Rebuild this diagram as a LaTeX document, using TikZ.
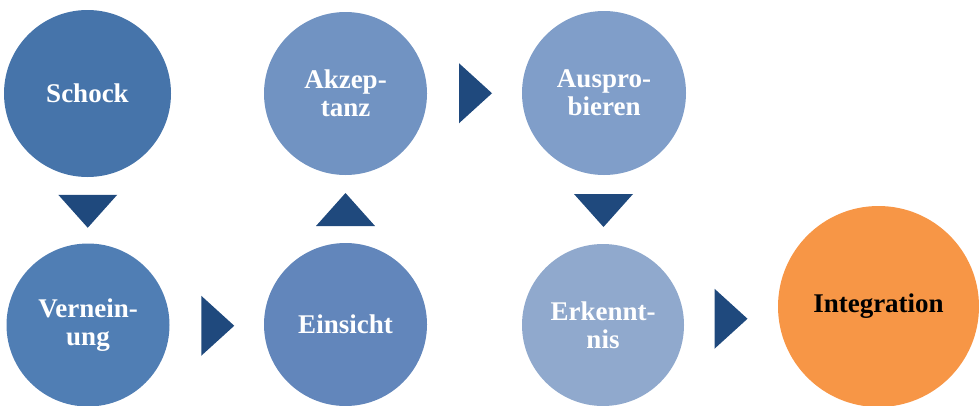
\documentclass[tikz,border=0pt]{standalone}
\usepackage{fontspec}
\setmainfont{Liberation Serif}
\usetikzlibrary{calc}

\definecolor{cSchock}{RGB}{70,116,170}
\definecolor{cVern}{RGB}{80,126,180}
\definecolor{cEins}{RGB}{98,134,187}
\definecolor{cAkz}{RGB}{113,147,194}
\definecolor{cAusp}{RGB}{128,158,201}
\definecolor{cErk}{RGB}{144,169,205}
\definecolor{cInt}{RGB}{247,150,70}
\definecolor{arrowblue}{RGB}{31,73,125}

\tikzset{
  phase/.style={circle, inner sep=0pt, minimum size=163pt, text=white,
    align=center, font=\fontsize{27}{28}\selectfont\bfseries},
  arrowtri/.style={fill=arrowblue, draw=none},
}

% triangle pointing right / down / up, centred at the given point
\newcommand{\triright}[1]{\fill[arrowtri] #1 ++(-16.5,-30) -- ++(33,30) -- ++(-33,30) -- cycle;}
\newcommand{\tridown}[1]{\fill[arrowtri] #1 ++(-29.5,-16.5) -- ++(59,0) -- ++(-29.5,33) -- cycle;}
\newcommand{\triup}[1]{\fill[arrowtri] #1 ++(-29.5,16.5) -- ++(59,0) -- ++(-29.5,-33) -- cycle;}

\begin{document}
\begin{tikzpicture}[x=1pt, y=-1pt]
  \useasboundingbox (0,0) rectangle (979,405);

  \node[phase, fill=cSchock, minimum size=167pt] (sch) at (87.5,93.5) {Schock};
  \node[phase, fill=cVern] (ver) at (88,325) {Vernein-\\ung};
  \node[phase, fill=cEins] (ein) at (345.5,324.5) {Einsicht};
  \node[phase, fill=cAkz] (akz) at (345.5,93.5) {Akzep-\\tanz};
  \node[phase, fill=cAusp, minimum size=164pt] (aus) at (604,93) {Auspro-\\bieren};
  \node[phase, fill=cErk, minimum size=162pt] (erk) at (603,325) {Erkennt-\\nis};
  \node[phase, fill=cInt, minimum size=201pt, text=black] (int) at (878.5,306.5) {Integration};

  % arrows between the phases
  \tridown{($(sch.south)!0.5!(ver.north)+(0,1)$)}
  \triright{($(ver.east)!0.5!(ein.west)+(1,1)$)}
  \triup{($(ein.north)!0.5!(akz.south)+(0,0.5)$)}
  \triright{($(akz.east)!0.5!(aus.west)+(1,0)$)}
  \tridown{($(aus.south)!0.5!(erk.north)+(0,1)$)}
  \triright{($(erk.east)!0.5!(int.west)+(0,3)$)}
\end{tikzpicture}
\end{document}
